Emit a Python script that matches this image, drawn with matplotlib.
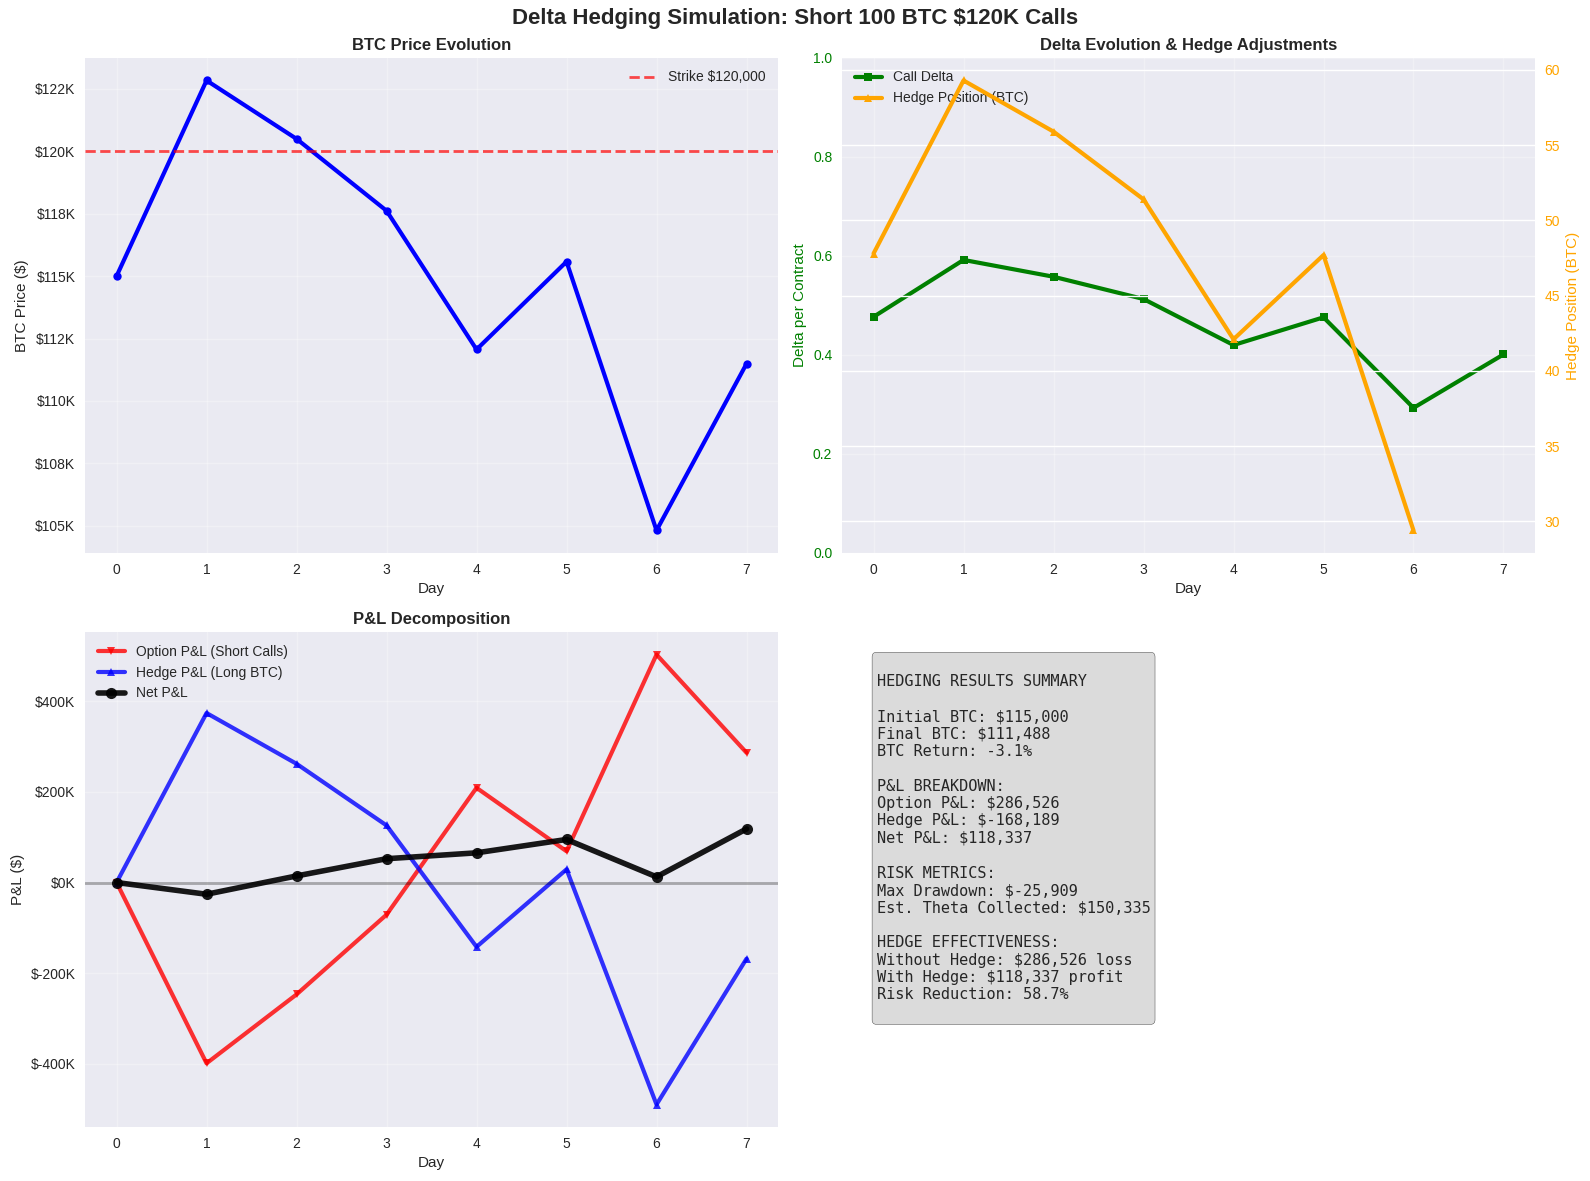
import numpy as np
import matplotlib
matplotlib.use('Agg')
import matplotlib.pyplot as plt
from matplotlib.ticker import FuncFormatter

# Data
days = [0, 1, 2, 3, 4, 5, 6, 7]
btc_price = [115000, 122840, 120500, 117620, 112060, 115580, 104810, 111488]
strike = 120000

call_delta = [0.477, 0.592, 0.558, 0.513, 0.420, 0.476, 0.293, 0.401]
hedge_days = [0, 1, 2, 3, 4, 5, 6]
hedge_position = [47.8, 59.3, 55.9, 51.4, 42.1, 47.7, 29.4]

option_pnl = [0, -399000, -247000, -71000, 209000, 69000, 503000, 286526]
hedge_pnl = [0, 374000, 262000, 126000, -142000, 29000, -490000, -168189]
net_pnl = [0, -25909, 14500, 52500, 65500, 95000, 12500, 118337]

summary = """
HEDGING RESULTS SUMMARY

Initial BTC: $115,000
Final BTC: $111,488
BTC Return: -3.1%

P&L BREAKDOWN:
Option P&L: $286,526
Hedge P&L: $-168,189
Net P&L: $118,337

RISK METRICS:
Max Drawdown: $-25,909
Est. Theta Collected: $150,335

HEDGE EFFECTIVENESS:
Without Hedge: $286,526 loss
With Hedge: $118,337 profit
Risk Reduction: 58.7%
"""

plt.style.use('seaborn-v0_8')

fig, axes = plt.subplots(2, 2, figsize=(15.9, 11.81), dpi=100)
fig.subplots_adjust(left=0.0535, right=0.9654, top=0.9509, bottom=0.0457,
                    wspace=0.0924, hspace=0.16)
fig.suptitle('Delta Hedging Simulation: Short 100 BTC $120K Calls',
             fontsize=16, fontweight='bold', y=0.993)

money_k = FuncFormatter(lambda x, p: f'${x/1000:.0f}K')

# BTC price
ax1 = axes[0, 0]
ax1.plot(days, btc_price, 'b-', linewidth=3, marker='o', markersize=6)
ax1.axhline(y=strike, color='r', linestyle='--', linewidth=2, alpha=0.7,
            label=f'Strike ${strike:,}')
ax1.set_title('BTC Price Evolution', fontweight='bold')
ax1.set_xlabel('Day')
ax1.set_ylabel('BTC Price ($)')
ax1.yaxis.set_major_formatter(money_k)
ax1.legend(loc='upper right')
ax1.grid(True, alpha=0.3)

# Delta and hedge
ax2 = axes[0, 1]
l1 = ax2.plot(days, call_delta, 'g-', linewidth=3, marker='s', markersize=6,
              label='Call Delta')
ax2.set_ylim(0, 1)
ax2.set_ylabel('Delta per Contract', color='g')
ax2.tick_params(axis='y', labelcolor='g')
ax2.set_xlabel('Day')
ax2.set_title('Delta Evolution & Hedge Adjustments', fontweight='bold')
ax2.grid(True, alpha=0.3)

ax2b = ax2.twinx()
l2 = ax2b.plot(hedge_days, hedge_position, color='orange', linewidth=3,
               marker='^', markersize=6, label='Hedge Position (BTC)')
ax2b.set_ylabel('Hedge Position (BTC)', color='orange')
ax2b.tick_params(axis='y', labelcolor='orange')
lines = l1 + l2
ax2.legend(lines, [l.get_label() for l in lines], loc='upper left')

# P&L decomposition
ax3 = axes[1, 0]
ax3.plot(days, option_pnl, 'r-', linewidth=3, marker='v', markersize=6,
         alpha=0.8, label='Option P&L (Short Calls)')
ax3.plot(days, hedge_pnl, 'b-', linewidth=3, marker='^', markersize=6,
         alpha=0.8, label='Hedge P&L (Long BTC)')
ax3.plot(days, net_pnl, 'k-', linewidth=4, marker='o', markersize=8,
         alpha=0.9, label='Net P&L')
ax3.axhline(y=0, color='black', linewidth=2, alpha=0.3)
ax3.set_title('P&L Decomposition', fontweight='bold')
ax3.set_xlabel('Day')
ax3.set_ylabel('P&L ($)')
ax3.yaxis.set_major_formatter(money_k)
ax3.legend(loc='upper left')
ax3.grid(True, alpha=0.3)

# Summary text
ax4 = axes[1, 1]
ax4.axis('off')
ax4.text(0.05, 0.95, summary, transform=ax4.transAxes, fontsize=11,
         va='top', family='monospace', parse_math=False,
         bbox=dict(boxstyle='round', facecolor='lightgray', alpha=0.8))

plt.savefig('out.png', dpi=100)
